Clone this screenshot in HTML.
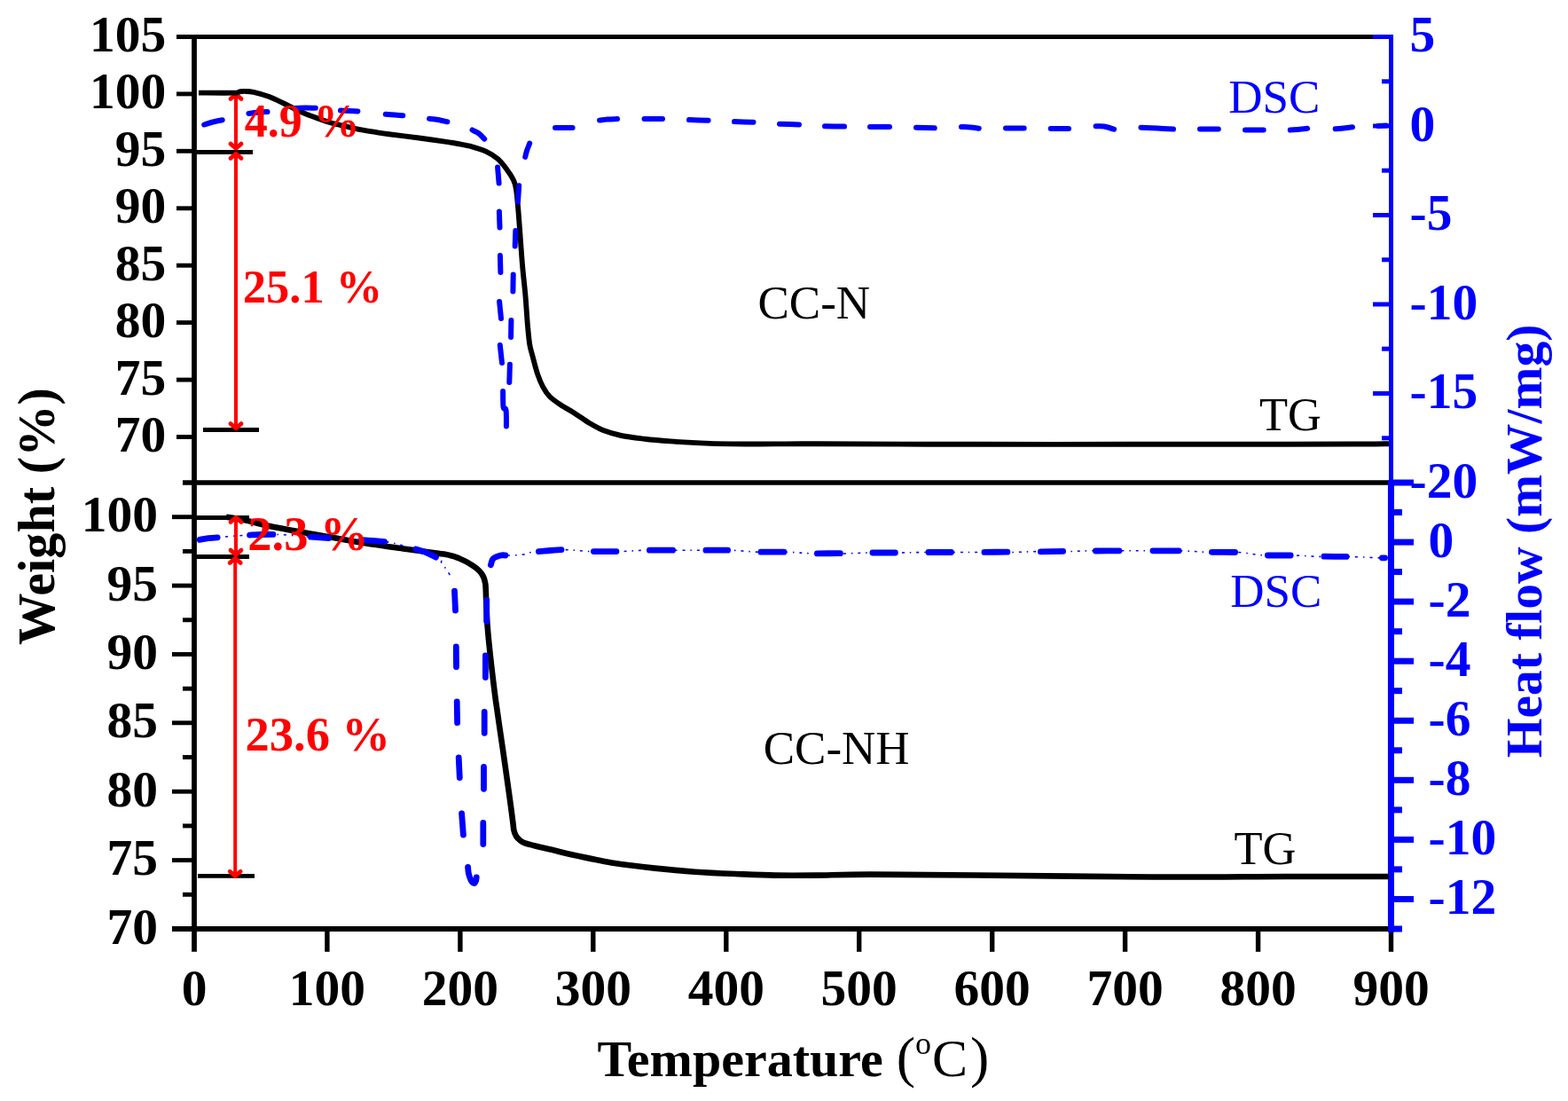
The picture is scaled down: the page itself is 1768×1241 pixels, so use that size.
<!DOCTYPE html>
<html><head><meta charset="utf-8"><title>TG-DSC</title>
<style>html,body{margin:0;padding:0;background:#fff;}svg{display:block;}</style>
</head><body>
<svg width="1768" height="1241" viewBox="0 0 1768 1241">
<rect width="1768" height="1241" fill="#fff"/>
<line x1="199" y1="41.5" x2="1566" y2="41.5" stroke="#000" stroke-width="5"/>
<line x1="206" y1="544" x2="1566" y2="544" stroke="#000" stroke-width="5.4"/>
<line x1="194" y1="1047" x2="1568" y2="1047" stroke="#000" stroke-width="6"/>
<line x1="219" y1="39" x2="219" y2="1072.8" stroke="#000" stroke-width="5.8"/>
<line x1="199" y1="492.5" x2="217" y2="492.5" stroke="#000" stroke-width="4.9"/>
<line x1="199" y1="428.1" x2="217" y2="428.1" stroke="#000" stroke-width="4.9"/>
<line x1="199" y1="363.6" x2="217" y2="363.6" stroke="#000" stroke-width="4.9"/>
<line x1="199" y1="299.2" x2="217" y2="299.2" stroke="#000" stroke-width="4.9"/>
<line x1="199" y1="234.8" x2="217" y2="234.8" stroke="#000" stroke-width="4.9"/>
<line x1="199" y1="170.3" x2="217" y2="170.3" stroke="#000" stroke-width="4.9"/>
<line x1="199" y1="105.9" x2="217" y2="105.9" stroke="#000" stroke-width="4.9"/>
<line x1="194" y1="582.7" x2="217" y2="582.7" stroke="#000" stroke-width="4.9"/>
<line x1="206" y1="621.4" x2="217" y2="621.4" stroke="#000" stroke-width="4.9"/>
<line x1="194" y1="660.1" x2="217" y2="660.1" stroke="#000" stroke-width="4.9"/>
<line x1="206" y1="698.8" x2="217" y2="698.8" stroke="#000" stroke-width="4.9"/>
<line x1="194" y1="737.5" x2="217" y2="737.5" stroke="#000" stroke-width="4.9"/>
<line x1="206" y1="776.2" x2="217" y2="776.2" stroke="#000" stroke-width="4.9"/>
<line x1="194" y1="814.8" x2="217" y2="814.8" stroke="#000" stroke-width="4.9"/>
<line x1="206" y1="853.5" x2="217" y2="853.5" stroke="#000" stroke-width="4.9"/>
<line x1="194" y1="892.2" x2="217" y2="892.2" stroke="#000" stroke-width="4.9"/>
<line x1="206" y1="930.9" x2="217" y2="930.9" stroke="#000" stroke-width="4.9"/>
<line x1="194" y1="969.6" x2="217" y2="969.6" stroke="#000" stroke-width="4.9"/>
<line x1="206" y1="1008.3" x2="217" y2="1008.3" stroke="#000" stroke-width="4.9"/>
<line x1="194" y1="1047" x2="217" y2="1047" stroke="#000" stroke-width="4.9"/>
<line x1="368.9" y1="1046" x2="368.9" y2="1072.8" stroke="#000" stroke-width="5.4"/>
<line x1="518.9" y1="1046" x2="518.9" y2="1072.8" stroke="#000" stroke-width="5.4"/>
<line x1="668.8" y1="1046" x2="668.8" y2="1072.8" stroke="#000" stroke-width="5.4"/>
<line x1="818.8" y1="1046" x2="818.8" y2="1072.8" stroke="#000" stroke-width="5.4"/>
<line x1="968.7" y1="1046" x2="968.7" y2="1072.8" stroke="#000" stroke-width="5.4"/>
<line x1="1118.7" y1="1046" x2="1118.7" y2="1072.8" stroke="#000" stroke-width="5.4"/>
<line x1="1268.6" y1="1046" x2="1268.6" y2="1072.8" stroke="#000" stroke-width="5.4"/>
<line x1="1418.6" y1="1046" x2="1418.6" y2="1072.8" stroke="#000" stroke-width="5.4"/>
<line x1="1568.5" y1="1046" x2="1568.5" y2="1072.8" stroke="#000" stroke-width="5.4"/>
<line x1="1568.5" y1="39" x2="1568.5" y2="546" stroke="#0000ff" stroke-width="5"/>
<line x1="1568.45" y1="541" x2="1568.45" y2="1051" stroke="#0000ff" stroke-width="7"/>
<line x1="1548" y1="41.5" x2="1567" y2="41.5" stroke="#0000ff" stroke-width="5"/>
<line x1="1558" y1="91.8" x2="1567" y2="91.8" stroke="#0000ff" stroke-width="5"/>
<line x1="1548" y1="142" x2="1567" y2="142" stroke="#0000ff" stroke-width="5"/>
<line x1="1558" y1="192.2" x2="1567" y2="192.2" stroke="#0000ff" stroke-width="5"/>
<line x1="1548" y1="242.5" x2="1567" y2="242.5" stroke="#0000ff" stroke-width="5"/>
<line x1="1558" y1="292.8" x2="1567" y2="292.8" stroke="#0000ff" stroke-width="5"/>
<line x1="1548" y1="343" x2="1567" y2="343" stroke="#0000ff" stroke-width="5"/>
<line x1="1558" y1="393.2" x2="1567" y2="393.2" stroke="#0000ff" stroke-width="5"/>
<line x1="1548" y1="443.5" x2="1567" y2="443.5" stroke="#0000ff" stroke-width="5"/>
<line x1="1558" y1="493.8" x2="1567" y2="493.8" stroke="#0000ff" stroke-width="5"/>
<line x1="1570" y1="544" x2="1594" y2="544" stroke="#0000ff" stroke-width="7"/>
<line x1="1570" y1="577.5" x2="1581" y2="577.5" stroke="#0000ff" stroke-width="7"/>
<line x1="1570" y1="611.1" x2="1594" y2="611.1" stroke="#0000ff" stroke-width="7"/>
<line x1="1570" y1="644.6" x2="1581" y2="644.6" stroke="#0000ff" stroke-width="7"/>
<line x1="1570" y1="678.1" x2="1594" y2="678.1" stroke="#0000ff" stroke-width="7"/>
<line x1="1570" y1="711.7" x2="1581" y2="711.7" stroke="#0000ff" stroke-width="7"/>
<line x1="1570" y1="745.2" x2="1594" y2="745.2" stroke="#0000ff" stroke-width="7"/>
<line x1="1570" y1="778.7" x2="1581" y2="778.7" stroke="#0000ff" stroke-width="7"/>
<line x1="1570" y1="812.3" x2="1594" y2="812.3" stroke="#0000ff" stroke-width="7"/>
<line x1="1570" y1="845.8" x2="1581" y2="845.8" stroke="#0000ff" stroke-width="7"/>
<line x1="1570" y1="879.3" x2="1594" y2="879.3" stroke="#0000ff" stroke-width="7"/>
<line x1="1570" y1="912.9" x2="1581" y2="912.9" stroke="#0000ff" stroke-width="7"/>
<line x1="1570" y1="946.4" x2="1594" y2="946.4" stroke="#0000ff" stroke-width="7"/>
<line x1="1570" y1="979.9" x2="1581" y2="979.9" stroke="#0000ff" stroke-width="7"/>
<line x1="1570" y1="1013.5" x2="1594" y2="1013.5" stroke="#0000ff" stroke-width="7"/>
<line x1="1570" y1="1047" x2="1581" y2="1047" stroke="#0000ff" stroke-width="7"/>
<g font-family="Liberation Serif, Times New Roman, serif" font-weight="bold" font-size="57.5" fill="#000"><text x="187.2" y="509" text-anchor="end">70</text><text x="187.2" y="444.6" text-anchor="end">75</text><text x="187.2" y="380.1" text-anchor="end">80</text><text x="187.2" y="315.7" text-anchor="end">85</text><text x="187.2" y="251.3" text-anchor="end">90</text><text x="187.2" y="186.8" text-anchor="end">95</text><text x="187.2" y="122.4" text-anchor="end">100</text><text x="187.2" y="58" text-anchor="end">105</text><text x="178" y="1063.5" text-anchor="end">70</text><text x="178" y="986.1" text-anchor="end">75</text><text x="178" y="908.7" text-anchor="end">80</text><text x="178" y="831.3" text-anchor="end">85</text><text x="178" y="754" text-anchor="end">90</text><text x="178" y="676.6" text-anchor="end">95</text><text x="178" y="599.2" text-anchor="end">100</text><text x="219" y="1133.2" text-anchor="middle">0</text><text x="368.9" y="1133.2" text-anchor="middle">100</text><text x="518.9" y="1133.2" text-anchor="middle">200</text><text x="668.8" y="1133.2" text-anchor="middle">300</text><text x="818.8" y="1133.2" text-anchor="middle">400</text><text x="968.7" y="1133.2" text-anchor="middle">500</text><text x="1118.7" y="1133.2" text-anchor="middle">600</text><text x="1268.6" y="1133.2" text-anchor="middle">700</text><text x="1418.6" y="1133.2" text-anchor="middle">800</text><text x="1568.5" y="1133.2" text-anchor="middle">900</text></g>
<g font-family="Liberation Serif, Times New Roman, serif" font-weight="bold" font-size="57.5" fill="#0000ff"><text x="1589.5" y="58">5</text><text x="1589.5" y="158.5">0</text><text x="1589.5" y="259">-5</text><text x="1589.5" y="359.5">-10</text><text x="1589.5" y="460">-15</text><text x="1589.5" y="560.5">-20</text><text x="1610.5" y="627.6">0</text><text x="1610.5" y="694.6">-2</text><text x="1610.5" y="761.7">-4</text><text x="1610.5" y="828.8">-6</text><text x="1610.5" y="895.8">-8</text><text x="1610.5" y="962.9">-10</text><text x="1610.5" y="1030">-12</text></g>
<text transform="translate(61 582) rotate(-90)" text-anchor="middle" font-family="Liberation Serif, serif" font-weight="bold" font-size="58.3" fill="#000">Weight (%)</text>
<text transform="translate(1738.4 610) rotate(-90)" text-anchor="middle" font-family="Liberation Serif, serif" font-weight="bold" font-size="57.5" fill="#0000ff">Heat flow (mW/mg)</text>
<g font-family="Liberation Serif, serif" fill="#000"><text x="673.5" y="1213" font-size="58" font-weight="bold">Temperature</text><text x="1010.7" y="1213.4" font-size="64">(</text><text x="1032.1" y="1188.1" font-size="36">o</text><text x="1051" y="1213" font-size="60">C</text><text x="1094" y="1213.4" font-size="64">)</text></g>
<line x1="221" y1="171.5" x2="285" y2="171.5" stroke="#000" stroke-width="4.8"/>
<line x1="229" y1="484.5" x2="292" y2="484.5" stroke="#000" stroke-width="4.8"/>
<line x1="221" y1="627.5" x2="281" y2="627.5" stroke="#000" stroke-width="4.8"/>
<line x1="221" y1="583.4" x2="281" y2="583.4" stroke="#000" stroke-width="5"/>
<line x1="223" y1="987.4" x2="287" y2="987.4" stroke="#000" stroke-width="4.8"/>
<line x1="266" y1="106" x2="266" y2="167.5" stroke="#ff0000" stroke-width="4"/><path d="M260 111.4 L266 106.2 L272 111.4" fill="none" stroke="#ff0000" stroke-width="4.8" stroke-linejoin="round" stroke-linecap="round"/><path d="M260 162.1 L266 167.3 L272 162.1" fill="none" stroke="#ff0000" stroke-width="4.8" stroke-linejoin="round" stroke-linecap="round"/><line x1="266" y1="173" x2="266" y2="483" stroke="#ff0000" stroke-width="4"/><path d="M260 178.4 L266 173.2 L272 178.4" fill="none" stroke="#ff0000" stroke-width="4.8" stroke-linejoin="round" stroke-linecap="round"/><path d="M260 477.6 L266 482.8 L272 477.6" fill="none" stroke="#ff0000" stroke-width="4.8" stroke-linejoin="round" stroke-linecap="round"/>
<path d="M224 104.6C230.6 104.6 256.1 104.8 263.8 104.6C271.5 104.4 268 103.7 270 103.4C272 103.1 273.1 102.8 275.7 102.9C278.3 103 281.4 102.8 285.9 103.8C290.4 104.8 297.1 106.7 302.8 108.8C308.5 110.9 314.1 113.8 319.8 116.5C325.5 119.2 331.1 122.5 336.8 125C342.5 127.5 348.2 129.7 353.8 131.8C359.4 133.9 365.1 136 370.7 137.7C376.3 139.4 382 140.6 387.7 141.9C393.4 143.2 399 144.7 404.7 145.8C410.4 146.9 416 147.8 421.6 148.7C427.2 149.6 430.1 150.2 438.6 151.3C447.1 152.4 462.3 154.2 472.5 155.5C482.7 156.8 492.7 158.2 500 159.3C507.3 160.4 510.7 161 516.1 162C521.5 163 526.8 163.8 532.2 165.3C537.6 166.8 543.5 168.6 548.3 170.9C553.1 173.2 557.4 175.8 561.2 179C565 182.2 567.9 186.2 570.9 190.2C573.9 194.2 577.1 199.1 579 203.1C580.9 207.1 581.2 208.3 582.1 214.2C583 220.1 583.7 229 584.5 238.4C585.3 247.8 586.1 259.9 586.9 270.6C587.7 281.4 588.4 292.1 589.4 302.9C590.4 313.7 591.7 324.4 592.6 335.2C593.5 345.9 594.2 358.6 595 367.4C595.8 376.2 596.3 382.4 597.2 388C598.1 393.6 598.9 395.4 600.4 401C601.9 406.6 604.2 416 606.2 421.9C608.2 427.8 610.2 432.4 612.5 436.6C614.8 440.8 616.5 443.7 619.8 447C623.1 450.3 627.7 453.4 632.4 456.5C637.1 459.6 642.9 462.6 648.1 465.9C653.3 469.2 658.6 473.2 663.8 476.4C669 479.5 673.4 482.4 679.5 484.8C685.6 487.2 692.6 489.4 700.5 491C708.4 492.6 717.5 493.6 726.7 494.7C735.9 495.8 745.3 496.6 755.8 497.4C766.3 498.2 778.4 498.9 789.7 499.4C801 499.9 809.5 500.2 823.6 500.4C837.7 500.6 858.4 500.4 874.5 500.4C890.6 500.4 882.4 500.2 920 500.3C957.6 500.4 1036.7 500.7 1100 500.8C1163.3 500.9 1241.7 500.8 1300 500.8C1358.3 500.8 1410 500.8 1450 500.7C1490 500.6 1520.7 500.6 1540 500.5C1559.3 500.4 1561.7 500.2 1566 500.2" fill="none" stroke="#000" stroke-width="5.9" stroke-linejoin="round"/>
<path d="M255 582.8C257.2 583.1 263.7 584 268 584.8C272.3 585.6 275.4 586.1 281 587.4C286.6 588.7 291.9 590.5 301.5 592.5C311.1 594.5 322.8 596.7 338.8 599.6C354.8 602.5 378 606.7 397.6 609.9C417.2 613.1 439.3 616.2 456.5 618.7C473.7 621.2 490.5 622.8 500.6 624.6C510.8 626.4 512.1 627.2 517.4 629.3C522.7 631.4 528.8 634.8 532.6 637.2C536.5 639.6 538.4 641.4 540.5 643.5C542.6 645.6 543.9 647.7 545 650C546.1 652.3 546.7 654.8 547.2 657.5C547.7 660.2 547.6 662.2 547.8 666C548 669.8 548 673.7 548.3 680C548.6 686.3 548.7 693.5 549.5 704C550.3 714.5 551.7 728.7 553.3 743C554.9 757.3 556.7 773 559 790C561.3 807 564.4 827 567 845C569.6 863 572.6 884.5 574.5 898C576.4 911.5 577.4 919.6 578.2 926C579.1 932.4 578.9 933.7 579.6 936.5C580.3 939.3 581.1 941 582.2 942.8C583.4 944.6 584.9 946 586.5 947.3C588.1 948.5 589.3 949.3 592 950.3C594.7 951.3 597.1 951.8 602.6 953.2C608.1 954.6 617.5 956.7 625 958.5C632.5 960.3 636.5 961.6 647.9 964C659.2 966.4 678 970.6 693.1 973C708.2 975.4 723.3 977 738.4 978.6C753.5 980.2 768.5 981.6 783.6 982.7C798.7 983.8 813.8 984.4 828.9 985C844 985.6 859 986.3 874.1 986.6C889.2 986.9 901.8 986.8 919.4 986.6C937 986.4 949.9 985.6 980 985.6C1010.1 985.6 1046.7 986 1100 986.5C1153.3 987 1241.7 988.2 1300 988.5C1358.3 988.8 1405.7 988.1 1450 988C1494.3 987.9 1546.7 988 1566 988" fill="none" stroke="#000" stroke-width="6.6" stroke-linejoin="round"/>
<path d="M221.4 609.2C225.9 608.6 239 606.5 248.5 605.5C258 604.5 267.7 603.8 278.2 603.3C288.7 602.8 299.8 602.1 311.3 602.4C322.8 602.7 336.6 604.3 347 605C357.4 605.7 364.4 606.1 374 606.7C383.6 607.3 394.2 607.7 404.7 608.4C415.2 609.1 426.7 609.2 436.9 610.9C447.1 612.6 456.1 615.4 465.7 618.5C475.3 621.6 489.2 626.9 494.6 629.6C500 632.3 496.4 632.8 498 634.9C499.6 637 502.1 639.8 503.9 642.5C505.7 645.2 508.1 649.8 509 651.3 M556.3 628.9C557.7 628.3 561.8 626 564.8 625.5C567.8 625 569.8 626.1 574 626C578.2 625.9 585.1 625.7 590 625C594.9 624.3 595.6 622.5 603.3 621.6C611 620.7 626.1 619.6 636.4 619.6C646.7 619.6 655 621.3 665.3 621.6C675.6 621.9 687.8 621.8 698.4 621.6C709 621.4 718.1 620.4 728.7 620.2C739.3 620 751.4 620.2 762 620.2C772.6 620.2 781.9 620.2 792.2 620.2C802.5 620.2 813.7 619.9 824 620.2C834.3 620.5 843.6 621.9 854.2 622.2C864.8 622.5 876.8 621.9 887.4 622.2C898 622.5 907.1 623.7 917.7 624C928.3 624.3 940.4 624.2 950.8 624C961.2 623.8 969.9 623.2 980.2 623C990.5 622.8 1002.3 623.1 1012.8 623C1023.3 622.9 1032.5 622.6 1043 622.5C1053.5 622.4 1065.4 622.5 1075.9 622.5C1086.4 622.5 1095.4 622.5 1106 622.5C1116.6 622.5 1128.7 622.6 1139.3 622.5C1149.9 622.4 1159.1 621.8 1169.6 621.6C1180 621.5 1191.7 621.7 1202 621.6C1212.3 621.5 1221 620.9 1231.6 620.8C1242.2 620.7 1254.7 620.8 1265.4 620.8C1276.1 620.8 1284.8 620.8 1296 620.8C1307.2 620.8 1321.4 620.5 1332.6 620.8C1343.8 621.1 1352.3 622.2 1362.9 622.5C1373.5 622.8 1385.5 621.9 1396 622.5C1406.5 623.1 1415.3 625.4 1425.7 626C1436.1 626.6 1448 625.8 1458.6 626C1469.1 626.2 1478.5 627.2 1489 627.4C1499.5 627.6 1510.8 627.2 1521.5 627.4C1532.2 627.6 1545.6 628.5 1553 628.8C1560.4 629.1 1563.8 629 1566 629" fill="none" stroke="#0000ff" stroke-width="1.6" stroke-dasharray="3 6 1.5 6"/>
<path d="M230.2 140.5C231.8 140 236.6 138.4 240 137.5C243.4 136.6 248.9 135.6 250.7 135.2 M280.4 128C282 127.8 286.5 127.1 290 126.8C293.5 126.5 299.6 126.1 301.5 126 M333 121.9C335 121.8 341.2 121.5 345 121.5C348.8 121.5 354 121.7 355.8 121.7 M384 124.6C385.7 124.7 390.8 124.9 394 125C397.2 125.1 401.8 125.3 403.4 125.4 M434.8 128.8C436.5 128.9 441.7 129.3 445 129.5C448.3 129.7 452.8 130.1 454.3 130.3 M484 133.8C485.7 134 490.6 134.4 494 135C497.4 135.6 502.6 136.9 504.4 137.3 M532.5 146.5C533.7 147.2 537.7 148.8 540 150.5C542.3 152.2 545.1 155.6 546.2 156.7 M561.1 188.4C561.4 191.4 562.3 203.6 562.6 206.6 M562.9 238.4C563 241.4 563.4 253.5 563.5 256.5 M563.9 288C564 291.2 564.3 303.8 564.4 307 M563.1 340C563.4 343.2 564.7 355.8 565 359 M563.8 389C564.2 392.3 565.6 405.7 566 409 M567.1 441C567.2 444 567 455.5 567.6 459C568.2 462.5 569.9 458.4 570.5 462C571.1 465.6 570.9 477.4 570.9 480.5 M574.3 431C574.4 427.6 574.8 414.1 574.9 410.7 M576.1 380C576.1 376.8 576.4 364.2 576.4 361 M578.4 328.5C578.4 325.4 578.7 312.7 578.7 309.6 M580.7 277.5C580.8 274.6 581.2 263 581.3 260.1 M584 227.5C584.2 224.5 585 212.3 585.2 209.3 M592.2 176.9C592.5 175.7 593.2 172.5 594 170C594.8 167.5 596.7 163 597.2 161.6 M626 144C629.3 144 642.3 143.9 645.6 143.9 M676 135.6C677.5 135.4 681.7 134.8 685 134.5C688.3 134.2 694.2 134.2 696 134.1 M726.5 134C729.9 134 743.6 134 747 134 M777 135.1C780.6 135.2 795 135.6 798.6 135.7 M828 137.1C831.6 137.2 845.9 137.6 849.5 137.7 M879 139.7C882.7 139.8 897.3 140.4 901 140.5 M930 142.3C933.7 142.4 948.3 142.5 952 142.6 M981 143C984.7 143 999.3 143 1003 143 M1033 143.7C1036.4 143.8 1050.3 144.2 1053.7 144.3 M1084 143C1085.7 143.1 1090.7 143.2 1094 143.5C1097.3 143.8 1102.2 144.5 1103.8 144.7 M1134 144.5C1137.5 144.5 1151.2 144.5 1154.7 144.5 M1184.7 145C1188.1 145 1201.6 145 1205 145 M1235.6 142.3C1237.2 142.3 1241.6 141.9 1245 142.5C1248.4 143.1 1254.3 145.1 1256.1 145.7 M1286.5 143.7C1289.6 143.9 1298.9 144.3 1305 144.6C1311.1 144.9 1320 145.3 1323 145.5 M1353 145.6C1356.5 145.6 1370.3 145.6 1373.8 145.6 M1404 146.5C1407.5 146.5 1421.2 146.5 1424.7 146.5 M1454.8 146.5C1456.5 146.4 1461.8 146.1 1465 145.8C1468.2 145.5 1472.7 145 1474.2 144.8 M1505.7 145.3C1507.2 145.2 1511.8 144.8 1515 144.4C1518.2 144 1523.4 143.4 1525 143.2 M1554 141.9C1555.5 141.9 1561.5 141.6 1563 141.6" fill="none" stroke="#0000ff" stroke-width="6" stroke-linecap="round" stroke-linejoin="round"/>
<path d="M225.3 608.4C227 608.1 231.7 607 235 606.6C238.3 606.2 243.4 605.9 245.1 605.8 M281.6 603.1C283.8 603 290.6 602.6 295 602.5C299.4 602.4 305.8 602.4 307.9 602.4 M350.4 605.2C353.8 605.4 367.2 606.3 370.6 606.5 M408.1 608.6C410.1 608.8 415.8 609.2 420 609.5C424.2 609.8 431.3 610.4 433.5 610.6 M468.9 618.9C470.8 619.5 476.2 621 480 622.5C483.8 624 489.6 627.2 491.5 628.1 M512.5 666.2C512.6 669.9 513.4 684.5 513.5 688.2 M514.3 728.8C514.3 732.6 514.5 747.8 514.5 751.6 M515.2 790.8C515.3 794.8 515.5 810.6 515.6 814.6 M517.2 853.9C517.4 857.7 518.1 872.8 518.3 876.6 M520.6 916.9C520.9 920.9 522.1 937.1 522.4 941.1 M527.6 977.4C527.7 978.6 527.9 982.6 528.5 985C529.1 987.4 530 990.2 531 992C532 993.8 533.6 995.3 534.5 995.5C535.4 995.7 536 994.1 536.5 993C537 991.9 537.1 989.5 537.2 988.9 M544.8 951.6C544.8 947.6 544.8 931.4 544.8 927.4 M545.5 889.3C545.5 885.2 545.5 868.5 545.5 864.4 M546.2 826.3C546.2 822.3 546.2 806.4 546.2 802.4 M547.4 763.6C547.4 759.5 547.4 742.9 547.4 738.8 M548.7 700.4C548.7 696.4 548.7 680.3 548.7 676.3 M553.4 636.8C553.9 635.6 554.4 631.3 556.3 629.5C558.2 627.7 562.5 626.6 564.8 626C567 625.4 569 626 569.8 626 M607.4 621.7C609.5 621.5 615.7 620.8 620 620.5C624.3 620.2 630.8 619.8 633 619.7 M669.4 621.6C673.7 621.6 690.7 621.6 695 621.6 M732.4 620.2C736.8 620.2 754.2 620.2 758.6 620.2 M795.9 620.2C800 620.2 816.5 620.2 820.6 620.2 M857.9 622.2C862.2 622.2 879.6 622.2 884 622.2 M921.4 623.9C925.7 623.9 943.1 623.6 947.4 623.6 M983.9 623C988.1 623 1005.1 623 1009.4 623 M1046.9 622.5C1051.2 622.5 1068.2 622.5 1072.5 622.5 M1109.9 622.4C1114.2 622.4 1131.6 622.1 1135.9 622.1 M1173.4 621.9C1177.6 621.8 1194.4 621.4 1198.6 621.3 M1235.4 621C1239.8 621 1257.6 620.8 1262 620.8 M1299.9 620.8C1304.8 620.8 1324.3 620.8 1329.2 620.8 M1366.4 622.3C1370.8 622.3 1388.2 622.5 1392.6 622.5 M1429.4 626C1433.7 626 1450.9 626 1455.2 626 M1492.9 627.2C1497.1 627.2 1513.9 627.4 1518.1 627.4 M1558.4 628.8C1558.9 628.8 1561.1 628.8 1561.6 628.8" fill="none" stroke="#0000ff" stroke-width="6.8" stroke-linecap="round" stroke-linejoin="round"/>
<line x1="266" y1="583" x2="266" y2="625.5" stroke="#ff0000" stroke-width="4"/><path d="M260 588.4 L266 583.2 L272 588.4" fill="none" stroke="#ff0000" stroke-width="4.8" stroke-linejoin="round" stroke-linecap="round"/><path d="M260 620.1 L266 625.3 L272 620.1" fill="none" stroke="#ff0000" stroke-width="4.8" stroke-linejoin="round" stroke-linecap="round"/><line x1="265.2" y1="629" x2="265.2" y2="987.6" stroke="#ff0000" stroke-width="4"/><path d="M259.2 634.4 L265.2 629.2 L271.2 634.4" fill="none" stroke="#ff0000" stroke-width="4.8" stroke-linejoin="round" stroke-linecap="round"/><path d="M259.2 982.2 L265.2 987.4 L271.2 982.2" fill="none" stroke="#ff0000" stroke-width="4.8" stroke-linejoin="round" stroke-linecap="round"/>
<g font-family="Liberation Serif, serif" font-weight="bold" fill="#ff0000"><text x="275.8" y="154" font-size="52">4.9 %</text><text x="273.8" y="341" font-size="52.5">25.1 %</text><text x="279.3" y="619.7" font-size="54.5">2.3 %</text><text x="276.6" y="845.7" font-size="54.5">23.6 %</text></g>
<g font-family="Liberation Serif, serif" font-size="53" fill="#000"><text x="854.5" y="359.3">CC-N</text><text x="860.7" y="861.2">CC-NH</text><text x="1420" y="485" font-size="52.5">TG</text><text x="1391.5" y="973.8" font-size="52.5">TG</text></g>
<g font-family="Liberation Serif, serif" font-size="53" fill="#0000ff"><text x="1385.2" y="127">DSC</text><text x="1387.3" y="683.7">DSC</text></g>
</svg>
</body></html>
